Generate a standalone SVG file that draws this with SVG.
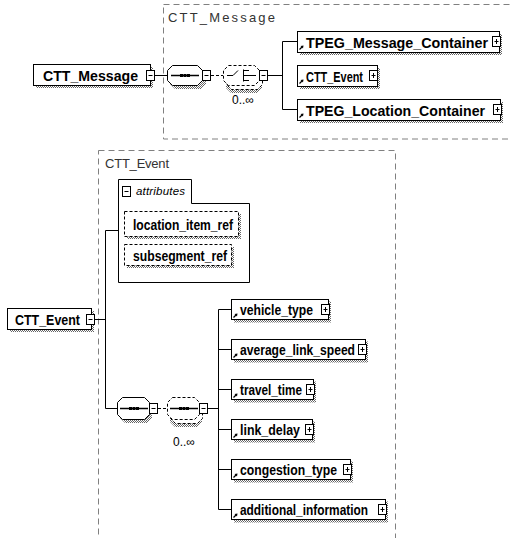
<svg xmlns="http://www.w3.org/2000/svg" xmlns:xlink="http://www.w3.org/1999/xlink" width="511" height="538" viewBox="0 0 511 538">
<defs>
<pattern id="dith" width="2" height="2" patternUnits="userSpaceOnUse"><rect width="1" height="1" fill="#666"/><rect x="1" y="1" width="1" height="1" fill="#666"/></pattern>
<g id="plus"><rect x="0.5" y="0.5" width="8" height="10" fill="#fff" stroke="#000"/><path d="M2.5 5.5H6.5M4.5 3V8" stroke="#000"/></g>
<g id="minus"><rect x="0.5" y="0.5" width="8" height="10" fill="#fff" stroke="#000"/><path d="M2.5 5.5H6.5" stroke="#000"/></g>
<g id="ref"><path d="M0.5 4.5L3.5 1.5" stroke="#000" stroke-width="1.2"/><path d="M4.5 0.5L1.5 1L4 3.5Z" fill="#000"/></g>
<g id="seqicon"><path d="M0 0H28" stroke="#000" stroke-width="1.5"/><rect x="9" y="-1.5" width="3" height="3" fill="#000"/><rect x="12.5" y="-1.5" width="3" height="3" fill="#000"/><rect x="16" y="-1.5" width="3" height="3" fill="#000"/></g>
</defs>
<style>
.grp{fill:none;stroke:#808080;stroke-dasharray:6 4;stroke-width:1}
.el{fill:#fff;stroke:#000;stroke-width:1}
.sh{fill:url(#dith)}
.dash{fill:#fff;stroke:#000;stroke-dasharray:3 2}
.t{font-family:"Liberation Sans",Arial,sans-serif;font-weight:bold;font-size:15.5px;fill:#000}
.g{font-family:"Liberation Sans",Arial,sans-serif;font-size:13px;fill:#333}
.s{font-family:"Liberation Sans",Arial,sans-serif;font-size:12px;fill:#000}
.i{font-family:"Liberation Sans",Arial,sans-serif;font-style:italic;font-size:11.5px;fill:#000}
.c{stroke:#000;fill:none;stroke-width:1}
.cd{stroke:#000;fill:none;stroke-width:1;stroke-dasharray:3 2}
</style>

<g id="group-CTT_Message">
<rect class="grp" x="163.5" y="4.5" width="360" height="134.5"/>
<text class="g" x="168" y="22" textLength="107">CTT_Message</text>
</g>
<g id="group-CTT_Event">
<rect class="grp" x="98.5" y="150.5" width="297" height="400"/>
<text class="g" x="105" y="168" textLength="64">CTT_Event</text>
</g>

<g id="connectors">
<path class="c" d="M155 75.5H167"/>
<path class="cd" d="M211 75.5H223"/>
<path class="c" d="M268 75.5H282.5M282.5 41.5V109.5M282.5 41.5H297.5M282.5 109.5H297.5"/>
<path class="c" d="M95 319.5H105.5M105.5 230.5V408.5M105.5 230.5H118.5M105.5 408.5H117"/>
<path class="cd" d="M158 408.5H167"/>
<path class="c" d="M208 408.5H218.5M218.5 309.5V509.5M218.5 309.5H231.5M218.5 349.5H231.5M218.5 389.5H231.5M218.5 429.5H231.5M218.5 469.5H231.5M218.5 509.5H231.5"/>
</g>

<g id="node-CTT_Message">
<rect class="sh" x="36" y="67" width="117" height="21"/>
<rect class="el" x="33.5" y="64.5" width="117" height="21"/>
<text class="t" x="43" y="80.5" textLength="95" lengthAdjust="spacingAndGlyphs">CTT_Message</text>
<use xlink:href="#minus" x="146" y="70"/>
</g>

<g id="node-seq1">
<polygon class="sh" points="175,68 201,68 206,73 206,84 201,89 175,89 170,84 170,73"/>
<polygon class="el" points="172.5,65.5 197.5,65.5 202.5,70.5 202.5,80.5 197.5,85.5 172.5,85.5 167.5,80.5 167.5,70.5"/>
<use xlink:href="#seqicon" x="171" y="75.5"/>
<use xlink:href="#minus" x="202" y="70"/>
</g>

<g id="node-choice1">
<polygon class="sh" points="231,72 257,72 262,77 262,88 257,93 231,93 226,88 226,77"/>
<polygon class="dash" points="231.5,68.5 257.5,68.5 262.5,73.5 262.5,84.5 257.5,89.5 231.5,89.5 226.5,84.5 226.5,73.5"/>
<polygon class="dash" points="228.5,65.5 254.5,65.5 259.5,70.5 259.5,80.5 254.5,85.5 228.5,85.5 223.5,80.5 223.5,70.5"/>
<path class="c" d="M227 75.5H233L238 70.5M243.5 69.5V81.5M243.5 70.5H249M243.5 75.5H249M243.5 80.5H249M249 75.5H256"/>
<use xlink:href="#minus" x="259" y="70"/>
<text class="s" x="232" y="104">0..∞</text>
</g>

<g id="node-TPEG_Message_Container">
<rect class="sh" x="300" y="34" width="202" height="21"/>
<rect class="el" x="297.5" y="31.5" width="202" height="21"/>
<text class="t" x="306" y="47.5" textLength="182" lengthAdjust="spacingAndGlyphs">TPEG_Message_Container</text>
<use xlink:href="#ref" x="299" y="45"/>
<use xlink:href="#plus" x="492" y="36"/>
</g>
<g id="node-CTT_Event-top">
<rect class="sh" x="300" y="68" width="80" height="21"/>
<rect class="el" x="297.5" y="65.5" width="80" height="21"/>
<text class="t" x="306" y="81.5" textLength="57" lengthAdjust="spacingAndGlyphs">CTT_Event</text>
<use xlink:href="#ref" x="299" y="79"/>
<use xlink:href="#plus" x="369" y="70"/>
</g>
<g id="node-TPEG_Location_Container">
<rect class="sh" x="300" y="102" width="203" height="21"/>
<rect class="el" x="297.5" y="99.5" width="203" height="21"/>
<text class="t" x="306" y="115.5" textLength="179" lengthAdjust="spacingAndGlyphs">TPEG_Location_Container</text>
<use xlink:href="#ref" x="299" y="113"/>
<use xlink:href="#plus" x="493" y="104"/>
</g>

<g id="node-attributes">
<path class="el" d="M118.5 282.5V179.5H191.5V203.5H249.5V282.5Z"/>
<use xlink:href="#minus" x="122" y="186"/>
<text class="i" x="136" y="195" textLength="49">attributes</text>
</g>
<g id="node-location_item_ref">
<rect class="sh" x="127" y="214" width="114" height="25"/>
<rect class="dash" x="124.5" y="211.5" width="114" height="25"/>
<text class="t" x="133" y="229.5" textLength="100" lengthAdjust="spacingAndGlyphs">location_item_ref</text>
</g>
<g id="node-subsegment_ref">
<rect class="sh" x="127" y="247" width="107" height="21"/>
<rect class="dash" x="124.5" y="244.5" width="107" height="21"/>
<text class="t" x="133" y="260.5" textLength="94" lengthAdjust="spacingAndGlyphs">subsegment_ref</text>
</g>

<g id="node-CTT_Event">
<rect class="sh" x="10" y="311" width="84" height="21"/>
<rect class="el" x="7.5" y="308.5" width="84" height="21"/>
<text class="t" x="15" y="324.5" textLength="65" lengthAdjust="spacingAndGlyphs">CTT_Event</text>
<use xlink:href="#minus" x="86" y="314"/>
</g>

<g id="node-seq2">
<polygon class="sh" points="125,401 147,401 152,406 152,418 147,423 125,423 120,418 120,406"/>
<polygon class="el" points="122.5,397.5 144.5,397.5 149.5,402.5 149.5,414.5 144.5,419.5 122.5,419.5 117.5,414.5 117.5,402.5"/>
<use xlink:href="#seqicon" x="120" y="408.5"/>
<use xlink:href="#minus" x="149" y="403"/>
</g>

<g id="node-seq3">
<polygon class="sh" points="175,405 197,405 202,410 202,422 197,427 175,427 170,422 170,410"/>
<polygon class="dash" points="175.5,401.5 197.5,401.5 202.5,406.5 202.5,418.5 197.5,423.5 175.5,423.5 170.5,418.5 170.5,406.5"/>
<polygon class="dash" points="172.5,397.5 194.5,397.5 199.5,402.5 199.5,414.5 194.5,419.5 172.5,419.5 167.5,414.5 167.5,402.5"/>
<use xlink:href="#seqicon" x="170" y="408.5"/>
<use xlink:href="#minus" x="199" y="403"/>
<text class="s" x="173" y="446">0..∞</text>
</g>

<g id="node-vehicle_type">
<rect class="sh" x="234" y="301.5" width="97" height="21"/>
<rect class="el" x="231.5" y="299.5" width="97" height="20"/>
<text class="t" x="240" y="315" textLength="73" lengthAdjust="spacingAndGlyphs">vehicle_type</text>
<use xlink:href="#ref" x="233" y="313"/>
<use xlink:href="#plus" x="321" y="304"/>
</g>
<g id="node-average_link_speed">
<rect class="sh" x="234" y="341.5" width="134" height="21"/>
<rect class="el" x="231.5" y="339.5" width="134" height="20"/>
<text class="t" x="240" y="355" textLength="115" lengthAdjust="spacingAndGlyphs">average_link_speed</text>
<use xlink:href="#ref" x="233" y="353"/>
<use xlink:href="#plus" x="358" y="344"/>
</g>
<g id="node-travel_time">
<rect class="sh" x="234" y="381.5" width="82" height="21"/>
<rect class="el" x="231.5" y="379.5" width="82" height="20"/>
<text class="t" x="240" y="395" textLength="62" lengthAdjust="spacingAndGlyphs">travel_time</text>
<use xlink:href="#ref" x="233" y="393"/>
<use xlink:href="#plus" x="306" y="384"/>
</g>
<g id="node-link_delay">
<rect class="sh" x="234" y="421.5" width="81" height="21"/>
<rect class="el" x="231.5" y="419.5" width="81" height="20"/>
<text class="t" x="240" y="435" textLength="60" lengthAdjust="spacingAndGlyphs">link_delay</text>
<use xlink:href="#ref" x="233" y="433"/>
<use xlink:href="#plus" x="305" y="424"/>
</g>
<g id="node-congestion_type">
<rect class="sh" x="234" y="461.5" width="119" height="21"/>
<rect class="el" x="231.5" y="459.5" width="119" height="20"/>
<text class="t" x="240" y="475" textLength="97" lengthAdjust="spacingAndGlyphs">congestion_type</text>
<use xlink:href="#ref" x="233" y="473"/>
<use xlink:href="#plus" x="343" y="464"/>
</g>
<g id="node-additional_information">
<rect class="sh" x="234" y="501.5" width="154" height="21"/>
<rect class="el" x="231.5" y="499.5" width="154" height="20"/>
<text class="t" x="240" y="515" textLength="128" lengthAdjust="spacingAndGlyphs">additional_information</text>
<use xlink:href="#ref" x="233" y="513"/>
<use xlink:href="#plus" x="378" y="504"/>
</g>
</svg>
